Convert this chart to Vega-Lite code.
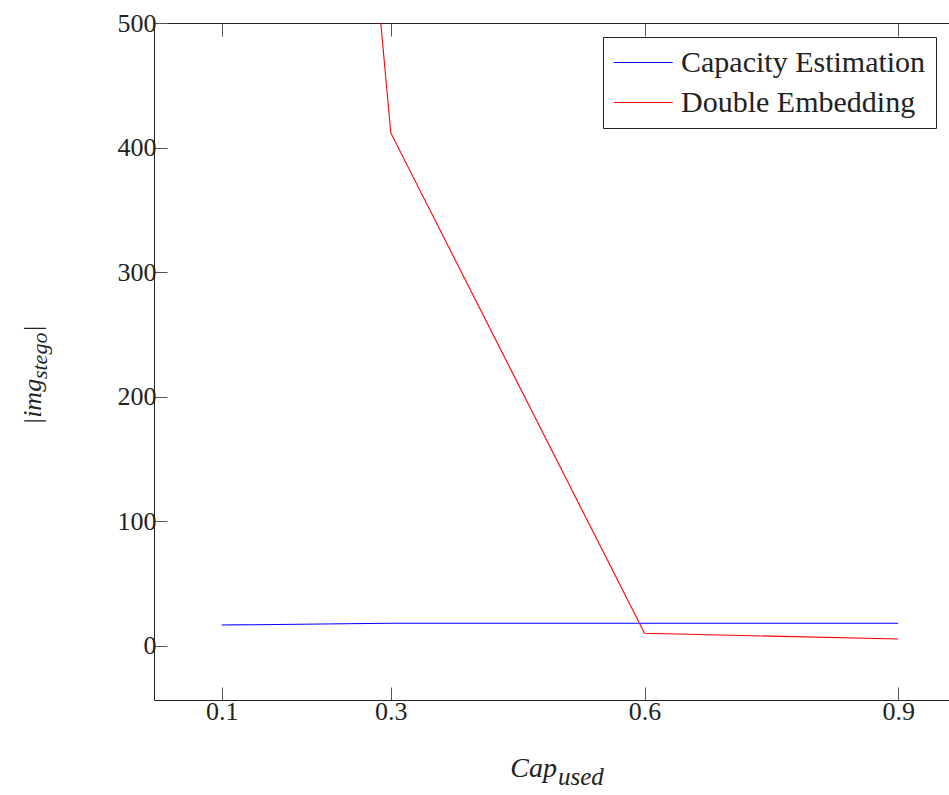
{
  "$schema": "https://vega.github.io/schema/vega-lite/v6.json",
  "width": 795,
  "height": 677,
  "autosize": "none",
  "padding": {"left": 154, "top": 23, "right": 0, "bottom": 95},
  "background": "white",
  "config": {
    "view": {"stroke": null},
    "font": "Liberation Serif, Times New Roman, serif",
    "axis": {
      "grid": false,
      "labelFont": "Liberation Serif, Times New Roman, serif",
      "labelFontSize": 26,
      "labelColor": "#222222",
      "domainColor": "#222222",
      "domainWidth": 1,
      "tickColor": "#555555",
      "tickSize": -13,
      "tickWidth": 1
    }
  },
  "datasets": {
    "lines": [
      {"cap": 0.1, "img": 16.6, "series": "Capacity Estimation"},
      {"cap": 0.3, "img": 18, "series": "Capacity Estimation"},
      {"cap": 0.6, "img": 18, "series": "Capacity Estimation"},
      {"cap": 0.9, "img": 18, "series": "Capacity Estimation"},
      {"cap": 0.1, "img": 1900, "series": "Double Embedding"},
      {"cap": 0.3, "img": 411.7, "series": "Double Embedding"},
      {"cap": 0.6, "img": 10, "series": "Double Embedding"},
      {"cap": 0.9, "img": 5.4, "series": "Double Embedding"}
    ]
  },
  "resolve": {"axis": {"x": "independent", "y": "independent"}},
  "layer": [
    {
      "data": {"name": "lines"},
      "mark": {"type": "line", "clip": true, "strokeWidth": 1.1},
      "encoding": {
        "x": {
          "field": "cap", "type": "quantitative",
          "scale": {"domain": [0.02, 0.96], "nice": false, "zero": false},
          "axis": {"orient": "bottom", "values": [0.1, 0.3, 0.6, 0.9], "format": ".1f", "labelPadding": 11, "title": null, "labelFont": "Liberation Serif, Times New Roman, serif", "labelFontSize": 26}
        },
        "y": {
          "field": "img", "type": "quantitative",
          "scale": {"domain": [-43.6, 500], "nice": false, "zero": false},
          "axis": {"orient": "left", "values": [0, 100, 200, 300, 400, 500], "labelPadding": 11, "title": null, "labelFont": "Liberation Serif, Times New Roman, serif", "labelFontSize": 26}
        },
        "color": {
          "field": "series", "type": "nominal",
          "scale": {"domain": ["Capacity Estimation", "Double Embedding"], "range": ["#0000ff", "#ff0000"]},
          "legend": {
            "orient": "none", "legendX": 449, "legendY": 14, "title": null,
            "strokeColor": "#222222", "fillColor": "white", "padding": 10,
            "symbolType": "M-1,0L3,0", "symbolSize": 870, "symbolStrokeWidth": 1.2,
            "labelFont": "Liberation Serif, Times New Roman, serif", "labelFontSize": 30, "labelColor": "#222222",
            "labelOffset": 37, "rowPadding": 9, "labelLimit": 0
          }
        }
      }
    },
    {
      "data": {"name": "lines"},
      "mark": {"type": "line", "strokeOpacity": 0},
      "encoding": {
        "x": {
          "field": "cap", "type": "quantitative",
          "scale": {"domain": [0.02, 0.96], "nice": false, "zero": false},
          "axis": {"orient": "top", "values": [0.1, 0.3, 0.6, 0.9], "labels": false, "title": null}
        },
        "y": {
          "field": "img", "type": "quantitative",
          "scale": {"domain": [-43.6, 500], "nice": false, "zero": false},
          "axis": null
        },
        "detail": {"field": "series"}
      }
    },
    {
      "data": {"values": [{"label": "Cap"}]},
      "mark": {"type": "text", "font": "Liberation Serif, Times New Roman, serif", "fontStyle": "italic", "fontSize": 28, "align": "right", "baseline": "alphabetic", "color": "#222222"},
      "encoding": {
        "text": {"field": "label"},
        "x": {"datum": 0.4965, "type": "quantitative", "scale": {"domain": [0.02, 0.96], "nice": false, "zero": false}, "axis": null},
        "y": {"datum": -105.4, "type": "quantitative", "scale": {"domain": [-43.6, 500], "nice": false, "zero": false}, "axis": null}
      }
    },
    {
      "data": {"values": [{"label": "used"}]},
      "mark": {"type": "text", "font": "Liberation Serif, Times New Roman, serif", "fontStyle": "italic", "fontSize": 25, "align": "left", "baseline": "alphabetic", "color": "#222222"},
      "encoding": {
        "text": {"field": "label"},
        "x": {"datum": 0.4977, "type": "quantitative", "scale": {"domain": [0.02, 0.96], "nice": false, "zero": false}, "axis": null},
        "y": {"datum": -111.9, "type": "quantitative", "scale": {"domain": [-43.6, 500], "nice": false, "zero": false}, "axis": null}
      }
    },
    {
      "data": {"values": [{"label": "|img"}]},
      "mark": {"type": "text", "font": "Liberation Serif, Times New Roman, serif", "fontStyle": "italic", "fontSize": 26, "align": "left", "baseline": "alphabetic", "angle": 270, "color": "#222222"},
      "encoding": {
        "text": {"field": "label"},
        "x": {"datum": -0.1136, "type": "quantitative", "scale": {"domain": [0.02, 0.96], "nice": false, "zero": false}, "axis": null},
        "y": {"datum": 177.2, "type": "quantitative", "scale": {"domain": [-43.6, 500], "nice": false, "zero": false}, "axis": null}
      }
    },
    {
      "data": {"values": [{"label": "stego"}]},
      "mark": {"type": "text", "font": "Liberation Serif, Times New Roman, serif", "fontStyle": "italic", "fontSize": 22, "align": "left", "baseline": "alphabetic", "angle": 270, "color": "#222222"},
      "encoding": {
        "text": {"field": "label"},
        "x": {"datum": -0.1065, "type": "quantitative", "scale": {"domain": [0.02, 0.96], "nice": false, "zero": false}, "axis": null},
        "y": {"datum": 214.1, "type": "quantitative", "scale": {"domain": [-43.6, 500], "nice": false, "zero": false}, "axis": null}
      }
    },
    {
      "data": {"values": [{"label": "|"}]},
      "mark": {"type": "text", "font": "Liberation Serif, Times New Roman, serif", "fontStyle": "italic", "fontSize": 26, "align": "left", "baseline": "alphabetic", "angle": 270, "color": "#222222"},
      "encoding": {
        "text": {"field": "label"},
        "x": {"datum": -0.1136, "type": "quantitative", "scale": {"domain": [0.02, 0.96], "nice": false, "zero": false}, "axis": null},
        "y": {"datum": 251.5, "type": "quantitative", "scale": {"domain": [-43.6, 500], "nice": false, "zero": false}, "axis": null}
      }
    }
  ]
}
